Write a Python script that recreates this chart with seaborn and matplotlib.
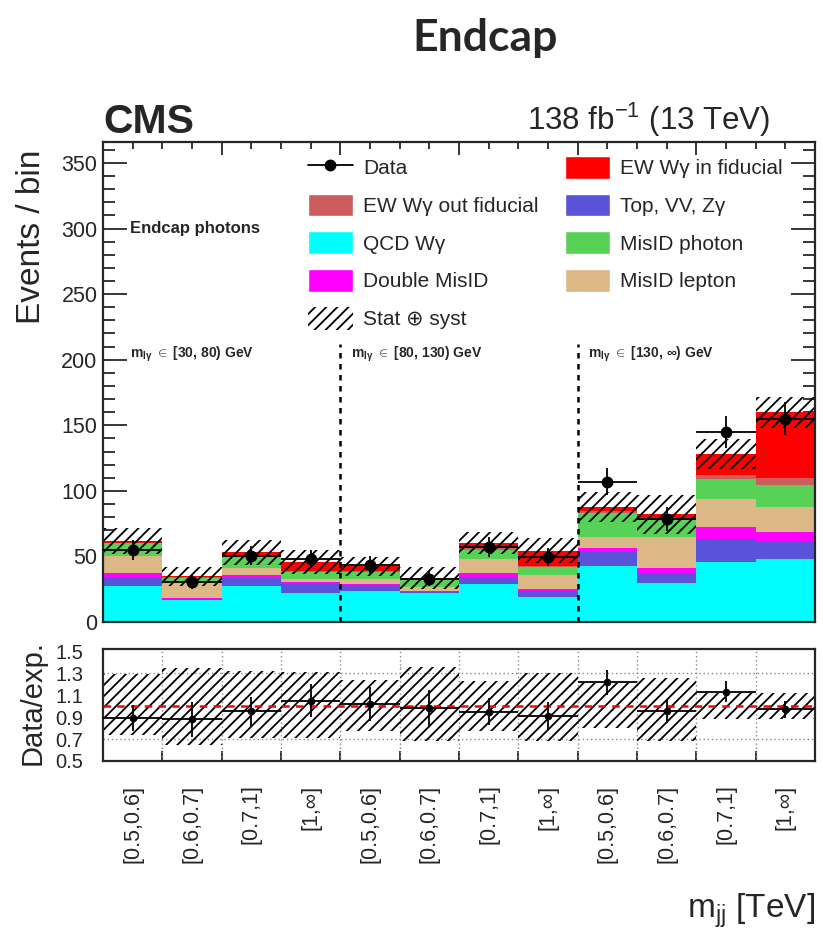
import numpy as np
import pandas as pd
import seaborn as sns
import matplotlib
matplotlib.use("Agg")
import matplotlib.pyplot as plt
from matplotlib.patches import Patch
from matplotlib.lines import Line2D

# m_jj bins, repeated for the three m_lgamma regions
bin_labels = ["[0.5,0.6]", "[0.6,0.7]", "[0.7,1]", "[1,\u221e]"] * 3
region_labels = ["[30, 80) GeV", "[80, 130) GeV", "[130, \u221e) GeV"]

# Expected yields per bin (stacked bottom -> top)
qcd_wg       = [27.5, 16.8, 27.5, 21.9, 23.9, 21.9, 29.0, 19.3, 42.7, 30.0, 46.0, 47.8]
top_vv_zg    = [7.1, 0.8, 5.8, 7.1, 4.3, 1.0, 5.1, 4.6, 10.3, 7.2, 17.0, 13.5]
double_misid = [2.4, 0.7, 2.4, 1.8, 0.8, 1.0, 3.1, 1.1, 3.2, 3.8, 9.3, 7.7]
misid_lepton = [13.6, 13.2, 5.5, 1.8, 3.6, 3.1, 10.6, 10.9, 8.9, 23.6, 21.3, 18.6]
misid_photon = [9.4, 2.3, 8.7, 5.8, 5.8, 5.6, 7.2, 6.3, 17.9, 13.3, 15.4, 17.0]
ew_out_fid   = [0.5, 0.2, 0.6, 0.8, 0.6, 0.3, 1.2, 0.8, 2.0, 1.1, 3.0, 5.1]
ew_in_fid    = [1.3, 0.7, 2.5, 6.5, 3.6, 0.8, 4.3, 11.4, 3.0, 3.2, 16.0, 50.1]

# Observed data
data     = [55.0, 30.5, 50.5, 48.0, 43.5, 33.0, 57.5, 49.5, 107.0, 78.5, 145.0, 155.0]
data_err = [7.4, 5.5, 7.1, 6.9, 6.6, 5.7, 7.6, 7.0, 10.3, 8.9, 12.0, 12.4]

# Total uncertainty on the expectation (absolute, main panel)
stack_unc = [10.0, 7.5, 9.6, 9.0, 7.3, 8.2, 8.5, 9.6, 11.5, 15.0, 11.5, 12.0]
# Uncertainty band in the ratio panel
ratio_band_lo = [0.74, 0.65, 0.71, 0.71, 0.77, 0.68, 0.77, 0.68, 0.80, 0.68, 0.88, 0.88]
ratio_band_hi = [1.29, 1.35, 1.32, 1.31, 1.24, 1.36, 1.23, 1.30, 1.21, 1.26, 1.12, 1.12]

processes = ["QCD W\u03b3", "Top, VV, Z\u03b3", "Double MisID", "MisID lepton",
             "MisID photon", "EW W\u03b3 out fiducial", "EW W\u03b3 in fiducial"]
yields = [qcd_wg, top_vv_zg, double_misid, misid_lepton, misid_photon, ew_out_fid, ew_in_fid]
colors = {
    "QCD W\u03b3": "#00ffff",
    "Top, VV, Z\u03b3": "#5a52d8",
    "Double MisID": "#ff00ff",
    "MisID lepton": "#dcb886",
    "MisID photon": "#57d257",
    "EW W\u03b3 out fiducial": "#cd5c5c",
    "EW W\u03b3 in fiducial": "#ff0000",
}

sns.set_style("ticks")
plt.rcParams["font.family"] = ["Liberation Sans", "DejaVu Sans"]
plt.rcParams["mathtext.fontset"] = "custom"
plt.rcParams["mathtext.rm"] = "Liberation Sans"
plt.rcParams["mathtext.it"] = "Liberation Sans:italic"
plt.rcParams["mathtext.bf"] = "Liberation Sans:bold"
plt.rcParams["hatch.linewidth"] = 1.3

nbins = len(bin_labels)
edges = np.arange(nbins + 1)
centers = edges[:-1] + 0.5

rows = []
for proc, vals in zip(processes, yields):
    for c, v in zip(centers, vals):
        rows.append({"bin": float(c), "events": float(v), "process": proc})
df = pd.DataFrame(rows)

total = np.sum(np.array(yields), axis=0)
data_a = np.array(data)
derr_a = np.array(data_err)
unc_a = np.array(stack_unc)

W, H = 823, 938
fig = plt.figure(figsize=(W / 100, H / 100), dpi=100)

def rect(l, t, r, b):
    return [l / W, 1 - b / H, (r - l) / W, (b - t) / H]

ax = fig.add_axes(rect(103, 142, 815, 622))
axr = fig.add_axes(rect(103, 649, 815, 761))

# Stacked expectation; seaborn stacks the last hue level at the bottom
sns.histplot(data=df, x="bin", weights="events", hue="process",
             hue_order=processes[::-1], palette=colors, multiple="stack",
             binwidth=1, binrange=(0, nbins), element="bars", linewidth=0,
             alpha=1, legend=False, ax=ax)

# Uncertainty band
ax.bar(centers, 2 * unc_a, bottom=total - unc_a, width=1.0, fill=False,
       hatch="///", edgecolor="black", linewidth=0)

# Data
ax.errorbar(centers, data_a, yerr=derr_a, xerr=0.5, fmt="o", color="black",
            ms=7.5, elinewidth=1.3, capsize=0, zorder=5)

ax.set_xlim(0, nbins)
ax.set_ylim(0, 366)
ax.set_xlabel("")
ax.set_ylabel("")
ax.set_yticks(np.arange(0, 351, 50))
ax.set_yticks(np.arange(0, 366, 10), minor=True)
ax.set_xticks(np.arange(0, nbins + 1, 2))
ax.set_xticks(np.arange(0, nbins + 0.01, 0.5), minor=True)
ax.set_xticklabels([])
ax.tick_params(axis="y", which="major", direction="in", length=17, width=1.3,
               left=True, right=True, labelsize=15.5, pad=4)
ax.tick_params(axis="y", which="minor", direction="in", length=8.5, width=1.3,
               left=True, right=True)
ax.tick_params(axis="x", which="major", direction="in", length=9, width=1.3,
               top=True, bottom=True)
ax.tick_params(axis="x", which="minor", direction="in", length=5, width=1.3,
               top=True, bottom=True)
for s in ax.spines.values():
    s.set_linewidth(1.6)
    s.set_visible(True)

# Region separators and labels
per_region = nbins // len(region_labels)
ax.vlines(np.arange(per_region, nbins, per_region), 0, 212, colors="black",
          linestyles=(0, (2.2, 2.2)), linewidth=1.8)
for i, lab in enumerate(region_labels):
    ax.text(i * per_region + (0.45 if i == 0 else 0.18), 204,
            "m$_{\\mathbf{l\\gamma}}$ $\\in$ " + lab, fontsize=10,
            fontweight="bold", va="center", ha="left")
ax.text(0.45, 300, "Endcap photons", fontsize=12, fontweight="bold",
        va="center", ha="left")

# Legend
handles = [
    Line2D([], [], color="black", marker="o", ms=7.5, lw=1.3),
    Patch(facecolor=colors["EW W\u03b3 out fiducial"]),
    Patch(facecolor=colors["QCD W\u03b3"]),
    Patch(facecolor=colors["Double MisID"]),
    Patch(facecolor="white", hatch="///", edgecolor="black", linewidth=0),
    Patch(facecolor=colors["EW W\u03b3 in fiducial"]),
    Patch(facecolor=colors["Top, VV, Z\u03b3"]),
    Patch(facecolor=colors["MisID photon"]),
    Patch(facecolor=colors["MisID lepton"]),
]
labels = ["Data", "EW W\u03b3 out fiducial", "QCD W\u03b3", "Double MisID",
          "Stat \u2295 syst", "EW W\u03b3 in fiducial", "Top, VV, Z\u03b3",
          "MisID photon", "MisID lepton"]
fig.legend(handles, labels, loc="upper left", bbox_to_anchor=(308 / W, 1 - 156 / H),
           ncol=2, frameon=False, borderpad=0, borderaxespad=0,
           handlelength=2.15, handleheight=1.3, handletextpad=0.5,
           labelspacing=0.72, columnspacing=1.25,
           prop={"family": ["Liberation Sans", "DejaVu Sans"], "size": 15})

# Ratio panel
ratio = data_a / total
ratio_err = derr_a / total
lo = np.array(ratio_band_lo)
hi = np.array(ratio_band_hi)
axr.bar(centers, hi - lo, bottom=lo, width=1.0, fill=False, hatch="///",
        edgecolor="black", linewidth=0, zorder=2)
for y in (0.7, 1.3):
    axr.axhline(y, color="#888888", lw=1.0, ls=(0, (1, 2)), zorder=1)
for x in edges[1:-1]:
    axr.axvline(x, color="#888888", lw=1.0, ls=(0, (1, 2)), zorder=1)
axr.axhline(1.0, color="red", lw=1.8, ls=(0, (3, 2.5)), zorder=3)
axr.errorbar(centers, ratio, yerr=ratio_err, xerr=0.5, fmt="o", color="black",
             ms=4.5, elinewidth=1.3, capsize=0, zorder=5)
axr.set_xlim(0, nbins)
axr.set_ylim(0.5, 1.52)
axr.set_yticks([0.5, 0.7, 0.9, 1.1, 1.3, 1.5])
axr.set_yticklabels(["0.5", "0.7", "0.9", "1.1", "1.3", "1.5"])
axr.tick_params(axis="y", length=0, labelsize=14.5, pad=14)
axr.set_xticks(edges)
axr.set_xticklabels([])
axr.tick_params(axis="x", which="major", direction="in", length=7, width=1.3)
axr.set_xticks(centers, minor=True)
axr.set_xticklabels(bin_labels, minor=True, rotation=90, fontsize=15.5)
axr.tick_params(axis="x", which="minor", length=0, pad=17)
for s in axr.spines.values():
    s.set_linewidth(1.6)
    s.set_visible(True)

# Titles and axis labels
fig.text(485 / W, 1 - 38 / H, "Endcap", fontsize=32, fontweight="bold",
         family="Lato", ha="center", va="center")
fig.text(103 / W, 1 - 133 / H, "CMS", fontsize=29.5, fontweight="bold",
         ha="left", va="baseline")
fig.text(770 / W, 1 - 130 / H, "138 fb$^{-1}$ (13 TeV)", fontsize=22.5,
         ha="right", va="baseline")
fig.text(32 / W, 1 - 150 / H, "Events / bin", fontsize=24, rotation=90,
         ha="center", va="top")
fig.text(33 / W, 1 - 703 / H, "Data/exp.", fontsize=21, rotation=90,
         ha="center", va="center")
fig.text(815 / W, 1 - 911 / H, "m$_{\\mathrm{jj}}$ [TeV]", fontsize=24,
         ha="right", va="center")

fig.savefig("out.png", dpi=100)
